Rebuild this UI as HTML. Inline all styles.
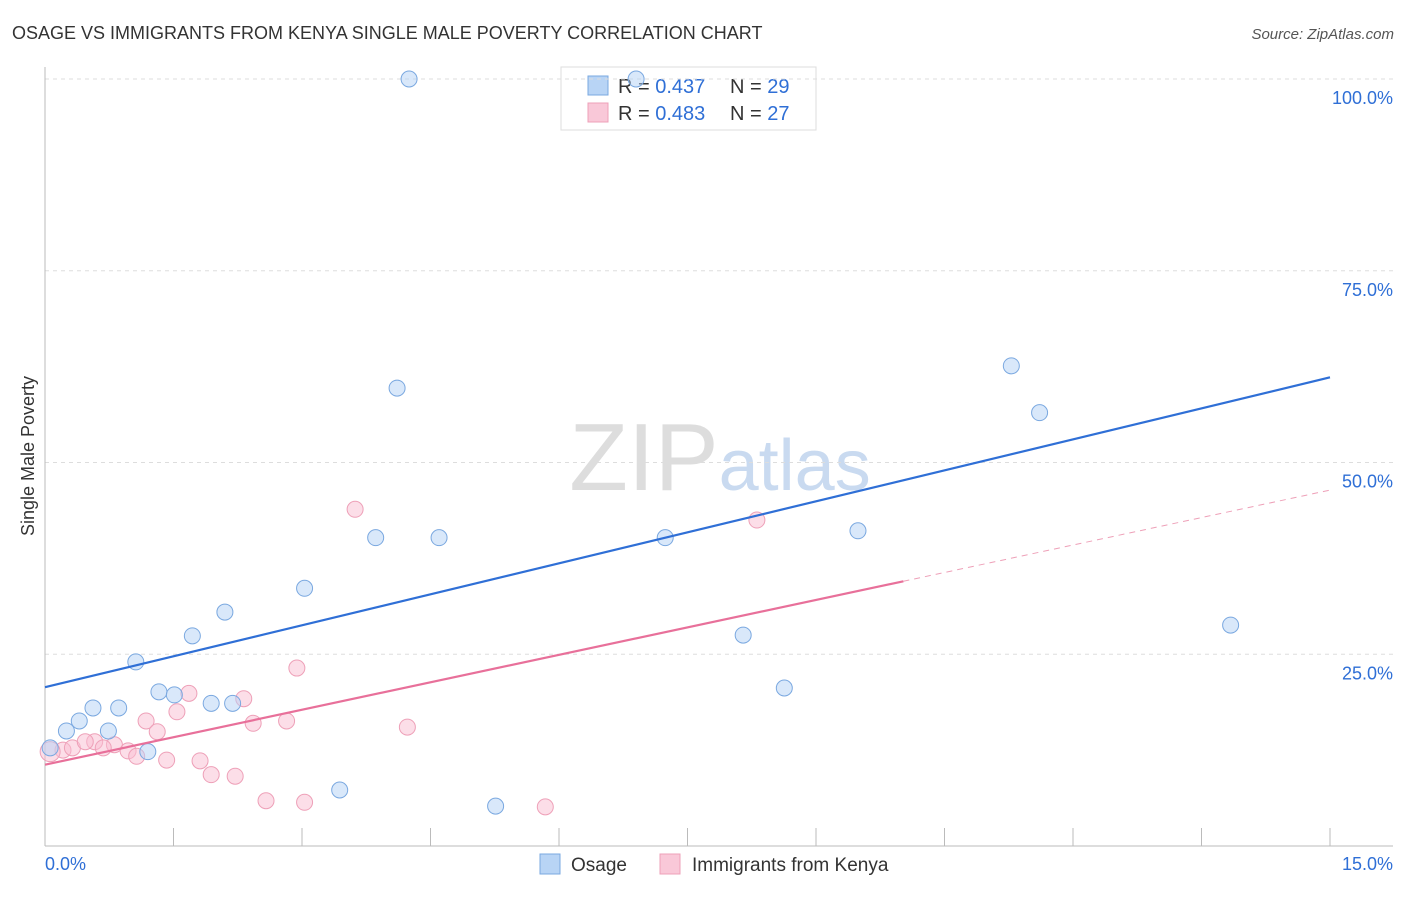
<!DOCTYPE html>
<html><head><meta charset="utf-8"><style>
body{margin:0;background:#fff;font-family:"Liberation Sans",sans-serif;}
svg text{font-family:"Liberation Sans",sans-serif;}
</style></head><body>
<svg id="chart" width="1406" height="892" viewBox="0 0 1406 892" xmlns="http://www.w3.org/2000/svg">
<text x="12" y="39" font-size="18" fill="#333">OSAGE VS IMMIGRANTS FROM KENYA SINGLE MALE POVERTY CORRELATION CHART</text>
<text x="1394" y="39" font-size="15" fill="#555" text-anchor="end" font-style="italic">Source: ZipAtlas.com</text>
<text x="720" y="490" font-size="96" text-anchor="middle" fill="#ddd" font-family="Liberation Serif">ZIP<tspan fill="#c9daf0" font-family="Liberation Sans" font-size="72">atlas</tspan></text>
<text transform="translate(34,456) rotate(-90)" font-size="18" fill="#333" text-anchor="middle">Single Male Poverty</text>
<g id="legend-top">
<rect x="561" y="67" width="255" height="63" fill="#fff" stroke="#ddd"/>
<rect x="588" y="76" width="20" height="19" fill="#b8d4f5" stroke="#7aa8e0"/>
<rect x="588" y="103" width="20" height="19" fill="#f9c8d8" stroke="#eea0b8"/>
<text x="618" y="93" font-size="20" fill="#333">R = <tspan fill="#2f6fd6">0.437</tspan></text>
<text x="730" y="93" font-size="20" fill="#333">N = <tspan fill="#2f6fd6">29</tspan></text>
<text x="618" y="120" font-size="20" fill="#333">R = <tspan fill="#2f6fd6">0.483</tspan></text>
<text x="730" y="120" font-size="20" fill="#333">N = <tspan fill="#2f6fd6">27</tspan></text>
</g>
<g id="grid"></g>
<g id="marks"></g>
<g>
<rect x="540" y="854" width="20" height="20" fill="#b8d4f5" stroke="#7aa8e0"/>
<text x="571" y="871" font-size="19" fill="#333">Osage</text>
<rect x="660" y="854" width="20" height="20" fill="#f9c8d8" stroke="#eea0b8"/>
<text x="692" y="871" font-size="19" fill="#333">Immigrants from Kenya</text>
</g>
</svg>
<script>
const yTicks=[100,75,50,25];
const yTickLabels=["100.0%","75.0%","50.0%","25.0%"];
const xTickLabels=["0.0%","15.0%"];
const osageX=[4.25,6.90,4.11,11.28,11.61,3.86,4.60,7.24,9.49,3.03,2.10,1.72,8.15,13.84,1.06,1.33,1.51,1.94,2.19,8.63,0.56,0.86,0.40,0.25,0.74,1.20,3.44,5.26,0.06];
const osageY=[100,100,59.7,62.6,56.5,40.2,40.2,40.2,41.1,33.6,30.5,27.4,27.5,28.8,24.0,20.1,19.7,18.6,18.6,20.6,18.0,18.0,16.3,15.0,15.0,12.3,7.3,5.2,12.8];
const kenyaX=[3.62,8.31,2.94,1.68,2.32,1.54,1.18,2.43,2.82,4.23,1.31,0.58,0.81,0.97,0.68,0.21,0.32,1.07,1.42,1.81,1.94,2.22,2.58,3.03,5.84,0.06,0.47];
const kenyaY=[43.9,42.5,23.2,19.9,19.2,17.5,16.3,16.0,16.3,15.5,14.9,13.6,13.2,12.4,12.8,12.5,12.8,11.7,11.2,11.1,9.3,9.1,5.9,5.7,5.1,12.3,13.6];
const osageTrend=[20.7,61.1];
const kenyaTrend=[10.6,46.4];
const kenyaSolidEnd=10.02;

const NS="http://www.w3.org/2000/svg";
const X=v=>45+v/15*1285;
const Y=v=>846-v*7.67;
function mk(tag,attrs,parent){const e=document.createElementNS(NS,tag);for(const k in attrs)e.setAttribute(k,attrs[k]);parent.appendChild(e);return e;}
const grid=document.getElementById('grid'), marks=document.getElementById('marks');
yTicks.forEach((t,i)=>{
 const l=mk('line',{x1:45,x2:1393,y1:Y(t),y2:Y(t),stroke:'#ddd','stroke-dasharray':'4,4'},grid);
 
 
 const tx=mk('text',{x:1393,y:Y(t)+25,'font-size':18,fill:'#2f6fd6','text-anchor':'end'},grid);
 tx.textContent=yTickLabels[i];
 
 
});
let a=mk('line',{x1:45,x2:45,y1:67,y2:846,stroke:'#bbb'},grid);


a=mk('line',{x1:45,x2:1393,y1:846,y2:846,stroke:'#bbb'},grid);


for(let i=1;i<=10;i++){const t=mk('line',{x1:X(i*1.5),x2:X(i*1.5),y1:828,y2:846,stroke:'#bbb'},grid);
 
 }
[[0,'start',45],[1,'end',1393]].forEach(([i,anc,x])=>{const t=mk('text',{x:x,y:870,'font-size':18,fill:'#2f6fd6','text-anchor':anc},grid);t.textContent=xTickLabels[i];
 
 });
kenyaX.forEach((x,i)=>{const c=mk('circle',{cx:X(x),cy:Y(kenyaY[i]),r:i==25?10:8,fill:'rgba(249,190,210,0.5)',stroke:'#eea0b8','stroke-width':1},marks);
 
 });
osageX.forEach((x,i)=>{const c=mk('circle',{cx:X(x),cy:Y(osageY[i]),r:8,fill:'rgba(180,210,245,0.5)',stroke:'#7aa8e0','stroke-width':1},marks);
 
 });
let l=mk('line',{x1:X(0),y1:Y(osageTrend[0]),x2:X(15),y2:Y(osageTrend[1]),stroke:'#2f6fd6','stroke-width':2.2},marks);


const ky=x=>kenyaTrend[0]+(kenyaTrend[1]-kenyaTrend[0])*x/15;
l=mk('line',{x1:X(0),y1:Y(ky(0)),x2:X(kenyaSolidEnd),y2:Y(ky(kenyaSolidEnd)),stroke:'#e8709a','stroke-width':2.2},marks);


l=mk('line',{x1:X(kenyaSolidEnd),y1:Y(ky(kenyaSolidEnd)),x2:X(15),y2:Y(ky(15)),stroke:'#eea0b8','stroke-width':1,'stroke-dasharray':'6,5'},marks);


</script>
</body></html>
